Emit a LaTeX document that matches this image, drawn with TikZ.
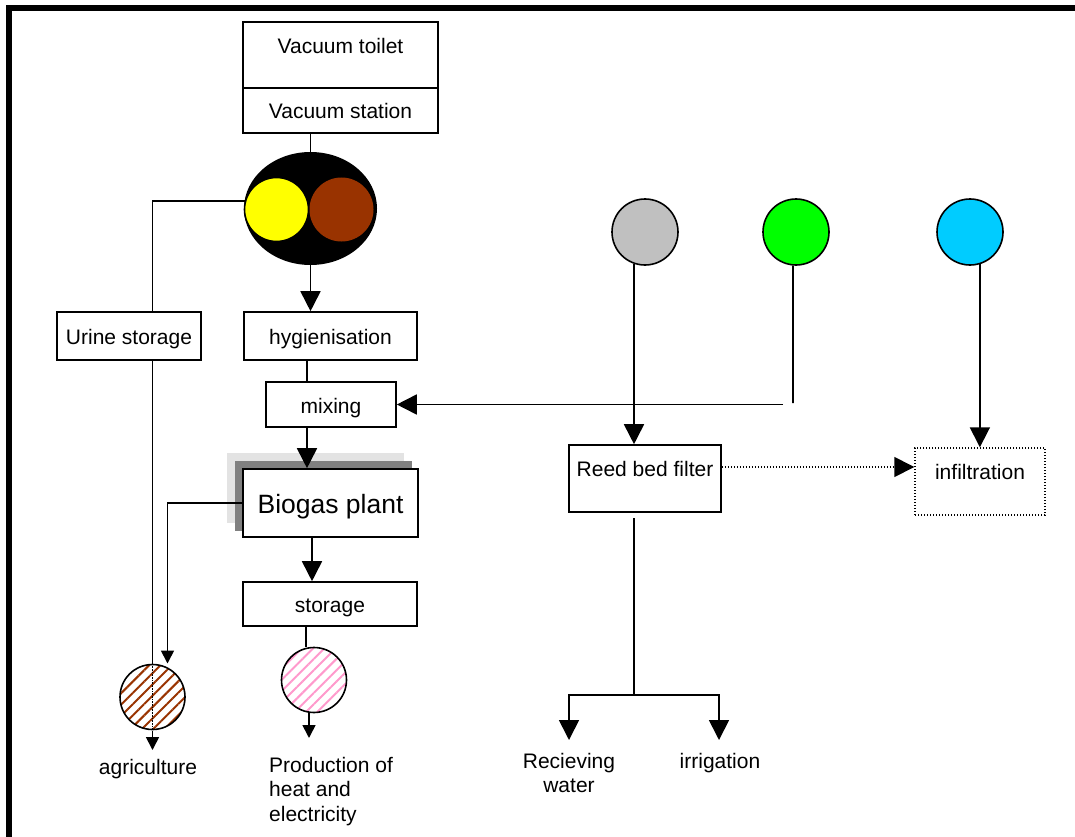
\documentclass[tikz,border=0pt]{standalone}
\usepackage{fontspec}
\setmainfont{Liberation Sans}
\usetikzlibrary{arrows.meta,shapes.geometric,patterns.meta,backgrounds}
\definecolor{urineyellow}{HTML}{FFFF00}
\definecolor{faecesbrown}{HTML}{993300}
\definecolor{greywater}{HTML}{C0C0C0}
\definecolor{greenwater}{HTML}{00FF00}
\definecolor{bluewater}{HTML}{00CCFF}
\definecolor{energypink}{HTML}{FF99CC}
\definecolor{shadowdark}{HTML}{808080}
\definecolor{shadowlight}{HTML}{E3E3E3}
\begin{document}
\begin{tikzpicture}[x=1pt,y=-1pt,
  every node/.style={font=\fontsize{21}{24.5}\selectfont, inner sep=0pt},
  box/.style={draw, line width=1.6pt, fill=white, rectangle, text height=19pt, text depth=2pt},
  ball/.style={circle, draw, line width=1.6pt, minimum size=66pt},
  line/.style={line width=1.7pt},
  big/.style={line, -{Triangle[length=20pt,width=20pt]}},
  small/.style={line, -{Triangle[length=13pt,width=13pt]}},
  hatched/.style={ball, minimum size=65pt, preaction={fill=white},
    pattern={Lines[angle=45,distance=8pt,line width=2pt]}, pattern color=#1},
  dots/.style={line width=1.4pt, dash pattern=on 1.4pt off 1.6pt},
]
\useasboundingbox (0,0) rectangle (1075,837);
% outer frame (runs off the page on the right and bottom)
\draw[line width=6pt] (9,8) rectangle (1110,870);

% --- toilet and collection ---
\node[box, minimum width=195pt, minimum height=66pt] (toilet) at (340.5,55) {};
\node[anchor=base] (toilettext) at (340.5,53.5) {Vacuum toilet};
\node[box, minimum width=195pt, minimum height=45pt] (station) at (340.5,110.5) {Vacuum station};

% separation of urine and faeces
\node[ellipse, fill=black, minimum width=133pt, minimum height=113pt] (sep) at (310.5,208.5) {};
\node[ball, fill=urineyellow, minimum size=64pt] (yellow) at (276.5,209.5) {};
\node[circle, fill=faecesbrown, minimum size=64pt] (brown) at (341.5,209.5) {};

% --- process chain ---
\node[box, minimum width=144pt, minimum height=48pt] (urine) at (129,336) {Urine storage};
\node[box, minimum width=173pt, minimum height=48pt] (hyg) at (330.5,336) {hygienisation};
\node[box, minimum width=130pt, minimum height=45pt] (mixing) at (331,404.5) {mixing};
\node[box, minimum width=175pt, minimum height=68pt, font=\fontsize{26.5}{30}\selectfont,
      text height=23pt, text depth=2pt] (biogas) at (330.5,503) {Biogas plant};
\begin{scope}[on background layer]
  \fill[shadowlight] ([shift={(-15,-15)}]biogas.south west) rectangle ([shift={(-15,-15)}]biogas.north east);
  \fill[shadowdark] ([shift={(-7,-7)}]biogas.south west) rectangle ([shift={(-7,-7)}]biogas.north east);
\end{scope}
\node[box, minimum width=174pt, minimum height=44pt] (storage) at (330,604) {storage};

% --- end uses ---
\node[hatched=faecesbrown] (agri) at (152.5,697) {};
\node[hatched=energypink] (pink) at (314,680) {};

% --- other water streams ---
\node[ball, fill=greywater] (gray) at (645,232) {};
\node[ball, fill=greenwater] (green) at (796,232) {};
\node[ball, fill=bluewater] (blue) at (970,232) {};
\node[box, minimum width=152pt, minimum height=67pt] (reed) at (645,478.5) {};
\node[anchor=base] (reedtext) at (645,476) {Reed bed filter};
\node[box, dots, minimum width=130pt, minimum height=67pt] (infil) at (980,481.5) {};
\node[anchor=base] (infiltext) at (980,479) {infiltration};

% free ends of connectors
\coordinate (agriend) at (152.5,750);
\coordinate (pinkend) at (309,738);
\coordinate (gbend) at (793,403);
\coordinate (gstart) at (783,404.5);
\coordinate (reedout) at (634,518);
\coordinate (split) at (634,695);
\coordinate (tipL) at (569,740);
\coordinate (tipR) at (719,740);

% --- connectors ---
\draw[line] (sep.north |- station.south) -- (sep.north);
\draw[line] (yellow.165) -| (agri.north |- urine.north);
\draw[big] (sep.south) -- (sep.south |- hyg.north);
\draw[line] ([xshift=-23.5pt]hyg.south) -- ([xshift=-23.5pt]hyg.south |- mixing.north);
\draw[big] ([xshift=-24pt]mixing.south) -- ([xshift=-24pt]mixing.south |- biogas.north);
\draw[small] (biogas.west) -| ([xshift=15pt]agri.north);
\draw[line] (agri.north |- urine.south) -- (agri.north);
\draw[line, densely dotted] (agri.north) -- (agri.south);
\draw[small] (agri.south) -- (agriend);
\draw[big] ([xshift=-18.5pt]biogas.south) -- ([xshift=-18.5pt]biogas.south |- storage.north);
\draw[line] ([xshift=-24pt]storage.south) -- ([xshift=-24pt]storage.south |- pink.north);
\draw[small] ([xshift=-5pt]pink.south) -- (pinkend);
\draw[big] (gray.-109) -- (gray.-109 |- reed.north);
\draw[line] (green.-95) -- (gbend);
\draw[big] (gstart) -- (mixing.east);
\draw[dots, -{Triangle[length=20pt,width=20pt]}] ([yshift=11.5pt]reed.east) -- ([yshift=11.5pt]reed.east -| infil.west);
\draw[big] (blue.-73) -- (blue.-73 |- infil.north);
\draw[line] (reedout) -- (split);
\draw[big] (split) -| (tipL);
\draw[big] (split) -| (tipR);

% --- labels of the end uses ---
\node[anchor=base] (agritext) at (148,774.5) {agriculture};
\node[align=left, anchor=north west] (energytext) at (269,757) {Production of\\heat and\\electricity};
\node[align=center, anchor=north] (recvtext) at (569,753) {Recieving\\water};
\node[anchor=base] (irrtext) at (720,768.5) {irrigation};
\end{tikzpicture}
\end{document}
